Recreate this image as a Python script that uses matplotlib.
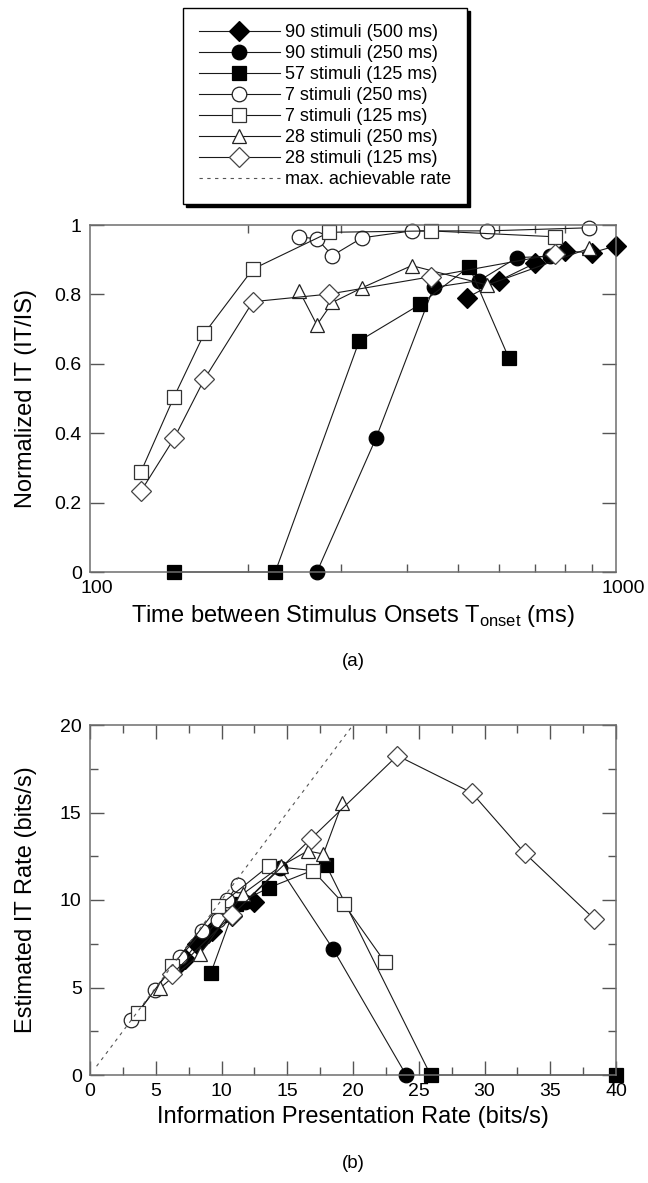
import matplotlib
matplotlib.use("Agg")
import matplotlib.pyplot as plt
from matplotlib.ticker import FixedLocator, FixedFormatter, NullFormatter, MultipleLocator
import matplotlib.transforms as mtrans

plt.rcParams['font.family'] = ['Liberation Sans', 'DejaVu Sans']
plt.rcParams['mathtext.fontset'] = 'custom'
plt.rcParams['mathtext.rm'] = 'Liberation Sans'

# ---------------- data (panel a: normalized IT vs onset time, ms) ----------------
labels = ["90 stimuli (500 ms)", "90 stimuli (250 ms)", "57 stimuli (125 ms)",
          "7 stimuli (250 ms)", "7 stimuli (125 ms)", "28 stimuli (250 ms)",
          "28 stimuli (125 ms)"]
max_label = "max. achievable rate"

a_x_90_500 = [520, 600, 702, 800, 900, 1000]
a_y_90_500 = [0.79, 0.84, 0.89, 0.925, 0.92, 0.94]
a_x_90_250 = [270, 350, 450, 550, 648, 750]
a_y_90_250 = [0.0, 0.387, 0.82, 0.84, 0.906, 0.91]
a_x_57_125 = [144.5, 225, 325, 424, 526, 625]
a_y_57_125 = [0.0, 0.0, 0.666, 0.771, 0.88, 0.618]
a_x_7_250 = [250, 270, 289, 329, 409, 569, 890]
a_y_7_250 = [0.966, 0.96, 0.912, 0.963, 0.983, 0.983, 0.992]
a_x_7_125 = [125, 144.5, 165, 204, 285, 445, 766]
a_y_7_125 = [0.289, 0.505, 0.688, 0.873, 0.979, 0.983, 0.966]
a_x_28_250 = [250, 270, 289, 329, 409, 569, 890]
a_y_28_250 = [0.81, 0.712, 0.777, 0.819, 0.883, 0.827, 0.933]
a_x_28_125 = [125, 144.5, 165, 204, 285, 445, 766]
a_y_28_125 = [0.233, 0.385, 0.556, 0.779, 0.801, 0.851, 0.916]

# ---------------- data (panel b: IT rate vs presentation rate, bits/s) ----------------
b_x_90_500 = [12.48, 10.82, 9.25, 8.12, 7.21, 6.49]
b_y_90_500 = [9.9, 9.07, 8.24, 7.51, 6.63, 6.1]
b_x_90_250 = [24.04, 18.5, 14.43, 11.8, 10.02, 8.66]
b_y_90_250 = [0.0, 7.18, 11.83, 9.9, 9.08, 7.88]
b_x_57_125 = [40.0, 25.9, 17.95, 13.6, 11.09, 9.2]
b_y_57_125 = [0.0, 0.0, 12.0, 10.7, 9.76, 5.85]
b_x_7_250 = [11.23, 10.40, 9.71, 8.53, 6.86, 4.93, 3.15]
b_y_7_250 = [10.85, 9.98, 8.86, 8.21, 6.74, 4.85, 3.13]
b_x_7_125 = [22.4, 19.3, 16.95, 13.6, 9.75, 6.25, 3.62]
b_y_7_125 = [6.48, 9.78, 11.68, 11.95, 9.63, 6.22, 3.53]
b_x_28_250 = [19.2, 17.75, 16.55, 14.5, 11.65, 8.4, 5.35]
b_y_28_250 = [15.57, 12.63, 12.8, 11.93, 10.36, 6.93, 4.98]
b_x_28_125 = [38.35, 33.07, 29.03, 23.37, 16.8, 10.8, 6.22]
b_y_28_125 = [8.91, 12.67, 16.13, 18.25, 13.5, 9.14, 5.75]
b_x_max = [0.5, 20]
b_y_max = [0.5, 20]

a_series = [(a_x_90_500, a_y_90_500), (a_x_90_250, a_y_90_250), (a_x_57_125, a_y_57_125),
            (a_x_7_250, a_y_7_250), (a_x_7_125, a_y_7_125), (a_x_28_250, a_y_28_250),
            (a_x_28_125, a_y_28_125)]
b_series = [(b_x_90_500, b_y_90_500), (b_x_90_250, b_y_90_250), (b_x_57_125, b_y_57_125),
            (b_x_7_250, b_y_7_250), (b_x_7_125, b_y_7_125), (b_x_28_250, b_y_28_250),
            (b_x_28_125, b_y_28_125)]

# ---------------- styles ----------------
styles = [
    dict(marker='D', ms=10.0, mfc='black', mec='black'),
    dict(marker='o', ms=10.5, mfc='black', mec='black'),
    dict(marker='s', ms=10.0, mfc='black', mec='black'),
    dict(marker='o', ms=10.5, mfc='white', mec='#222222'),
    dict(marker='s', ms=10.0, mfc='white', mec='#333333'),
    dict(marker='^', ms=10.5, mfc='white', mec='#222222'),
    dict(marker='D', ms=10.0, mfc='white', mec='#444444'),
]
line_kw = dict(color='#1a1a1a', lw=0.8, mew=0.9, clip_on=False)
spine_color = '#6e6e6e'
label_fs = 17

W, H = 648, 1183
fig = plt.figure(figsize=(W / 100, H / 100), dpi=100)

def px_axes(x0, y0, x1, y1):
    return fig.add_axes([x0 / W, 1 - y1 / H, (x1 - x0) / W, (y1 - y0) / H])

def style_axes(ax):
    for s in ax.spines.values():
        s.set_color(spine_color)
        s.set_linewidth(1.1)
    ax.tick_params(which='both', direction='in', top=True, right=True,
                   color='#555555', labelsize=14, labelcolor='black', width=1.0)
    ax.tick_params(which='major', length=10, pad=6)
    ax.tick_params(which='minor', length=5.5)

# ---------------- panel a ----------------
ax1 = px_axes(90, 225, 616, 572)
handles = []
for (x, y), st, lab in zip(a_series, styles, labels):
    h, = ax1.plot(x, y, label=lab, **st, **line_kw)
    handles.append(h)
ax1.set_xscale('log')
ax1.set_xlim(100, 1000)
ax1.set_ylim(0, 1)
style_axes(ax1)
ax1.xaxis.set_major_locator(FixedLocator([100, 1000]))
ax1.xaxis.set_major_formatter(FixedFormatter(['100', '1000']))
ax1.xaxis.set_minor_locator(FixedLocator([200, 300, 400, 500, 600, 700, 800, 900]))
ax1.xaxis.set_minor_formatter(NullFormatter())
ax1.yaxis.set_major_locator(FixedLocator([0, 0.2, 0.4, 0.6, 0.8, 1.0]))
ax1.yaxis.set_major_formatter(FixedFormatter(['0', '0.2', '0.4', '0.6', '0.8', '1']))
ax1.tick_params(axis='x', which='major', length=0)
for lbl in ax1.get_xticklabels():
    lbl.set_transform(lbl.get_transform() + mtrans.ScaledTranslation(7 / 100, 0, fig.dpi_scale_trans))
ax1.set_xlabel(r"Time between Stimulus Onsets T$_{\mathregular{onset}}$ (ms)", fontsize=label_fs)
ax1.set_ylabel("Normalized IT (IT/IS)", fontsize=label_fs)
ax1.xaxis.set_label_coords(0.5, -0.09)
ax1.yaxis.set_label_coords(-0.10, 0.5)
fig.text(353 / W, 1 - 662 / H, "(a)", ha='center', va='center', fontsize=13.5)

# ---------------- panel b ----------------
ax2 = px_axes(90, 725, 616, 1075)
for (x, y), st in zip(b_series, styles):
    ax2.plot(x, y, **st, **line_kw)
mx, = ax2.plot(b_x_max, b_y_max, color='#555555', lw=0.8, ls=(0, (3, 4)), label=max_label)
ax2.set_xlim(0, 40)
ax2.set_ylim(0, 20)
style_axes(ax2)
ax2.xaxis.set_major_locator(MultipleLocator(5))
ax2.xaxis.set_minor_locator(MultipleLocator(2.5))
ax2.yaxis.set_major_locator(MultipleLocator(5))
ax2.yaxis.set_minor_locator(MultipleLocator(2.5))
ax2.set_xlabel("Information Presentation Rate (bits/s)", fontsize=label_fs)
ax2.set_ylabel("Estimated IT Rate (bits/s)", fontsize=label_fs)
ax2.xaxis.set_label_coords(0.5, -0.09)
ax2.yaxis.set_label_coords(-0.10, 0.5)
fig.text(353 / W, 1 - 1163 / H, "(b)", ha='center', va='center', fontsize=13.5)

# ---------------- legend ----------------
leg = fig.legend(handles + [mx], labels + [max_label], loc='upper left',
                 bbox_to_anchor=(183 / W, 1 - 8 / H), borderaxespad=0,
                 fontsize=13, handlelength=4.45, handletextpad=0.28,
                 labelspacing=0.22, borderpad=0.9, fancybox=False,
                 edgecolor='black', framealpha=1, numpoints=1,
                 shadow={'color': 'black', 'alpha': 1})
leg.get_frame().set_linewidth(1.0)

fig.savefig("out.png", dpi=100)
